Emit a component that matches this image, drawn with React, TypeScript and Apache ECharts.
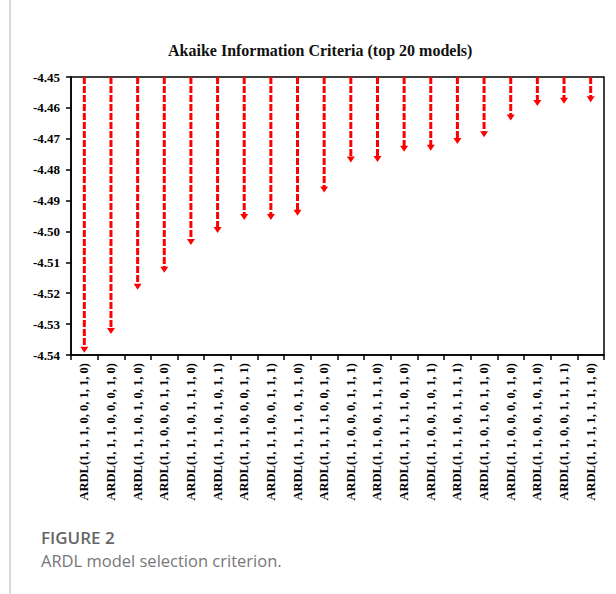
import React, { useEffect, useRef } from "react";
import * as echarts from "echarts";

const categories: string[] = [
  "ARDL(1, 1, 1, 0, 0, 1, 1, 0)",
  "ARDL(1, 1, 1, 0, 0, 0, 1, 0)",
  "ARDL(1, 1, 1, 0, 1, 0, 1, 0)",
  "ARDL(1, 1, 0, 0, 0, 1, 1, 0)",
  "ARDL(1, 1, 1, 0, 1, 1, 1, 0)",
  "ARDL(1, 1, 1, 0, 1, 0, 1, 1)",
  "ARDL(1, 1, 1, 0, 0, 0, 1, 1)",
  "ARDL(1, 1, 1, 0, 0, 1, 1, 1)",
  "ARDL(1, 1, 1, 1, 0, 1, 1, 0)",
  "ARDL(1, 1, 1, 1, 0, 0, 1, 0)",
  "ARDL(1, 1, 0, 0, 0, 1, 1, 1)",
  "ARDL(1, 1, 0, 0, 1, 1, 1, 0)",
  "ARDL(1, 1, 1, 1, 1, 0, 1, 0)",
  "ARDL(1, 1, 0, 0, 1, 0, 1, 1)",
  "ARDL(1, 1, 1, 0, 1, 1, 1, 1)",
  "ARDL(1, 1, 0, 1, 0, 1, 1, 0)",
  "ARDL(1, 1, 0, 0, 0, 0, 1, 0)",
  "ARDL(1, 1, 0, 0, 1, 0, 1, 0)",
  "ARDL(1, 1, 0, 0, 1, 1, 1, 1)",
  "ARDL(1, 1, 1, 1, 1, 1, 1, 0)",
];

const aicValues: number[] = [
  -4.5393, -4.5332, -4.5189, -4.5134, -4.5044, -4.5005, -4.4963, -4.4963,
  -4.4949, -4.4874, -4.4777, -4.4775, -4.4742, -4.4739, -4.4717, -4.4695,
  -4.4641, -4.4594, -4.4587, -4.4582,
];

const yMin = -4.54;
const yMax = -4.45;
const yStep = 0.01;

const titleText = "Akaike Information Criteria (top 20 models)";
const captionHead = "FIGURE 2";
const captionBody = "ARDL model selection criterion.";

const serif = "'Liberation Serif', 'Times New Roman', serif";

export default function App() {
  const ref = useRef<HTMLDivElement>(null);

  useEffect(() => {
    if (!ref.current) return;
    const chart = echarts.init(ref.current, undefined, { renderer: "svg" });
    chart.setOption({
      animation: false,
      backgroundColor: "#ffffff",
      title: {
        text: titleText,
        left: 163,
        top: 37,
        textStyle: {
          fontFamily: serif,
          fontWeight: "bold",
          fontSize: 16,
          color: "#111",
        },
      },
      grid: {
        left: 71,
        right: 12,
        top: 77,
        bottom: 239,
        show: true,
        borderColor: "#000",
        borderWidth: 1.5,
        backgroundColor: "transparent",
      },
      xAxis: {
        type: "category",
        data: categories,
        boundaryGap: true,
        axisLine: { show: true, lineStyle: { color: "#000", width: 1.5 } },
        axisTick: { show: true, inside: false, length: 5, interval: 0, lineStyle: { color: "#000", width: 1.5 } },
        axisLabel: {
          interval: 0,
          rotate: 90,
          margin: 8,
          fontFamily: serif,
          fontWeight: "bold",
          fontSize: 12.5,
          color: "#000",
        },
        splitLine: { show: false },
      },
      yAxis: {
        type: "value",
        min: yMin,
        max: yMax,
        interval: yStep,
        axisLine: { show: true, lineStyle: { color: "#000", width: 1.5 } },
        axisTick: { show: true, inside: false, length: 5, lineStyle: { color: "#000", width: 1.5 } },
        axisLabel: {
          margin: 11,
          fontFamily: serif,
          fontWeight: "bold",
          fontSize: 13,
          color: "#000",
          formatter: (v: number) => v.toFixed(2),
        },
        splitLine: { show: false },
      },
      series: [
        {
          type: "custom",
          data: aicValues.map((v, i) => [i, v]),
          encode: { x: 0, y: 1 },
          renderItem: (params: any, api: any) => {
            const idx = api.value(0);
            const val = api.value(1);
            const top = api.coord([idx, yMax]);
            const tip = api.coord([idx, val]);
            const head = 6;
            const half = 4;
            return {
              type: "group",
              children: [
                {
                  type: "line",
                  shape: { x1: top[0], y1: top[1], x2: tip[0], y2: tip[1] - head + 1 },
                  style: { stroke: "#ff0000", lineWidth: 3, lineDash: [7, 2] },
                },
                {
                  type: "polygon",
                  shape: {
                    points: [
                      [tip[0] - half, tip[1] - head],
                      [tip[0] + half, tip[1] - head],
                      [tip[0], tip[1]],
                    ],
                  },
                  style: { fill: "#ff0000" },
                },
              ],
            };
          },
        },
      ],
      graphic: [
        {
          type: "line",
          shape: { x1: 10, y1: 0, x2: 10, y2: 594 },
          style: { stroke: "#cccccc", lineWidth: 1.5 },
        },
        {
          type: "text",
          left: 41,
          top: 529,
          style: {
            text: captionHead,
            fontFamily: "'Open Sans', 'Noto Sans', sans-serif",
            fontWeight: 600,
            fontSize: 17,
            fill: "#666666",
          },
        },
        {
          type: "text",
          left: 41,
          top: 552,
          style: {
            text: captionBody,
            fontFamily: "'Open Sans', 'Noto Sans', sans-serif",
            fontSize: 16.5,
            fill: "#777777",
          },
        },
      ],
    });
    return () => chart.dispose();
  }, []);

  return (
    <div
      ref={ref}
      style={{ position: "fixed", left: 0, top: 0, width: 616, height: 594 }}
    />
  );
}
